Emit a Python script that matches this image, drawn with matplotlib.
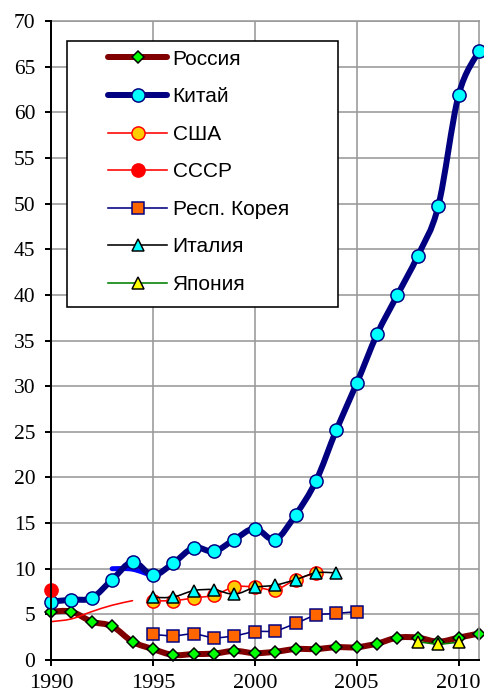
import numpy as np
import matplotlib
matplotlib.use("Agg")
import matplotlib.pyplot as plt
from matplotlib.path import Path
from matplotlib.patches import PathPatch, Rectangle
from matplotlib.lines import Line2D

plt.rcParams["font.family"] = ["Liberation Serif", "DejaVu Serif"]

# yearly values by country
russia_years = list(range(1990, 2012))
russia = [5.3, 5.3, 4.2, 3.7, 2.0, 1.2, 0.55, 0.65, 0.7, 1.0, 0.75,
          0.9, 1.2, 1.2, 1.4, 1.4, 1.8, 2.45, 2.45, 2.0, 2.45, 2.9]

china_years = list(range(1990, 2012))
china = [6.4, 6.6, 6.8, 8.8, 10.75, 9.3, 10.6, 12.3, 11.9, 13.2, 14.4,
         13.2, 15.9, 19.6, 25.2, 30.3, 35.7, 40.0, 44.3, 49.7, 61.9, 66.7]

# second china line (no legend entry)
china2_years = [1993, 1994, 1995]
china2 = [10.0, 9.95, 9.2]

usa_years = list(range(1990, 2004))
usa = [4.2, 4.5, 5.3, 6.0, 6.5, 6.5, 6.5, 6.8, 7.1, 8.0, 8.0, 7.7, 8.8, 9.55]

ussr_years = [1990]
ussr = [7.7]

korea_years = list(range(1995, 2006))
korea = [2.8, 2.65, 2.85, 2.45, 2.65, 3.1, 3.2, 4.0, 4.9, 5.1, 5.3]

italy_years = list(range(1995, 2005))
italy = [6.85, 6.9, 7.6, 7.7, 7.2, 7.95, 8.2, 8.8, 9.55, 9.55]

japan_years = [2008, 2009, 2010]
japan = [2.0, 1.75, 1.95]

labels = ["Россия", "Китай", "США", "СССР", "Респ. Корея", "Италия", "Япония"]

PX = 72 / 100.0  # one pixel in points


def smooth_path(xs, ys):
    # bezier curve through the points, excel-style smoothing
    pts = np.column_stack([xs, ys]).astype(float)
    n = len(pts)
    verts = [pts[0]]
    codes = [Path.MOVETO]
    for i in range(n - 1):
        p0 = pts[i - 1] if i > 0 else pts[i]
        p1 = pts[i]
        p2 = pts[i + 1]
        p3 = pts[i + 2] if i + 2 < n else pts[i + 1]
        verts += [p1 + (p2 - p0) / 6, p2 - (p3 - p1) / 6, p2]
        codes += [Path.CURVE4] * 3
    return Path(verts, codes)


def draw_series(ax, xs, ys, color, lw, z, marker=None, mfc=None, mec=None,
                ms=8, line=True):
    if line and len(xs) > 1:
        ax.add_patch(PathPatch(smooth_path(xs, ys), fill=False, edgecolor=color,
                               lw=lw, capstyle="round", joinstyle="round", zorder=z))
    if marker:
        ax.plot(xs, ys, linestyle="none", marker=marker,
                mfc=mfc, mec=mec, ms=ms, mew=1.5 * PX, zorder=z + 0.5, clip_on=False)


fig = plt.figure(figsize=(4.85, 6.97), dpi=100)
ax = fig.add_axes([51 / 485, 1 - 660 / 697, 428 / 485, 639 / 697])

thick = 6 * PX
thin = 1.6 * PX

# marker sizes
ms_d, ms_o, ms_s, ms_t = 6.5, 9.5, 8, 9

draw_series(ax, russia_years, russia, "#800000", thick, 2, "D", "#00ff00", "black", ms_d)
draw_series(ax, china2_years, china2, "#0000ff", 5 * PX, 2.8)
draw_series(ax, china_years, china, "#000080", thick, 3, "o", "#00ffff", "#000080", ms_o)
# usa: early years drawn without markers, gap before 1995
draw_series(ax, usa_years[:5], usa[:5], "#ff0000", thin, 4)
draw_series(ax, usa_years[5:], usa[5:], "#ff0000", thin, 4, "o", "#ffcc00", "#ff0000", ms_o)
draw_series(ax, ussr_years, ussr, "#ff0000", thin, 5, "o", "#ff0000", "#ff0000", ms_o)
draw_series(ax, korea_years, korea, "#000080", thin, 6, "s", "#ff6600", "#000080", ms_s)
draw_series(ax, italy_years, italy, "black", thin, 7, "^", "#00ffff", "black", ms_t)
draw_series(ax, japan_years, japan, "#008000", thin, 8, "^", "#ffff00", "black", ms_t)

ax.set_xlim(1990, 2011)
ax.set_ylim(0, 70)
ax.set_xticks(range(1990, 2011, 5))
ax.set_yticks(range(0, 71, 5))
ax.grid(True, color="#999999", lw=1.6 * PX, zorder=0)
ax.set_axisbelow(True)

for side in ["top", "right"]:
    ax.spines[side].set_color("#999999")
    ax.spines[side].set_linewidth(1.6 * PX)
for side in ["left", "bottom"]:
    ax.spines[side].set_color("black")
    ax.spines[side].set_linewidth(2 * PX)
    ax.spines[side].set_zorder(20)

ax.tick_params(direction="out", length=6 * PX, width=2 * PX, color="black",
               labelfontfamily="Liberation Serif")
ax.tick_params(axis="y", pad=7, labelsize=15.5)
ax.tick_params(axis="x", pad=6, labelsize=16)

# legend box
ax.add_patch(Rectangle((0.0367, 0.553), 0.634, 0.416, transform=ax.transAxes,
                       facecolor="white", edgecolor="black", lw=1.6 * PX, zorder=30))

handles = [
    Line2D([], [], color="#800000", lw=thick, marker="D", mfc="#00ff00", mec="black", ms=ms_d, mew=1.5 * PX),
    Line2D([], [], color="#000080", lw=thick, marker="o", mfc="#00ffff", mec="#000080", ms=ms_o, mew=1.5 * PX),
    Line2D([], [], color="#ff0000", lw=thin, marker="o", mfc="#ffcc00", mec="#ff0000", ms=ms_o, mew=1.5 * PX),
    Line2D([], [], color="#ff0000", lw=thin, marker="o", mfc="#ff0000", mec="#ff0000", ms=ms_o, mew=1.5 * PX),
    Line2D([], [], color="#000080", lw=thin, marker="s", mfc="#ff6600", mec="#000080", ms=ms_s, mew=1.5 * PX),
    Line2D([], [], color="black", lw=thin, marker="^", mfc="#00ffff", mec="black", ms=ms_t, mew=1.5 * PX),
    Line2D([], [], color="#008000", lw=thin, marker="^", mfc="#ffff00", mec="black", ms=ms_t, mew=1.5 * PX),
]
for h in handles[:2]:
    h.set_solid_capstyle("round")

leg = ax.legend(handles, labels, loc="upper left", bbox_to_anchor=(0.133, 0.955),
                frameon=False, borderpad=0, borderaxespad=0, handlelength=2.85,
                handletextpad=0.25, labelspacing=0.89,
                prop={"family": "Liberation Sans", "size": 15})
leg.set_zorder(31)

fig.savefig("out.png", dpi=100)
